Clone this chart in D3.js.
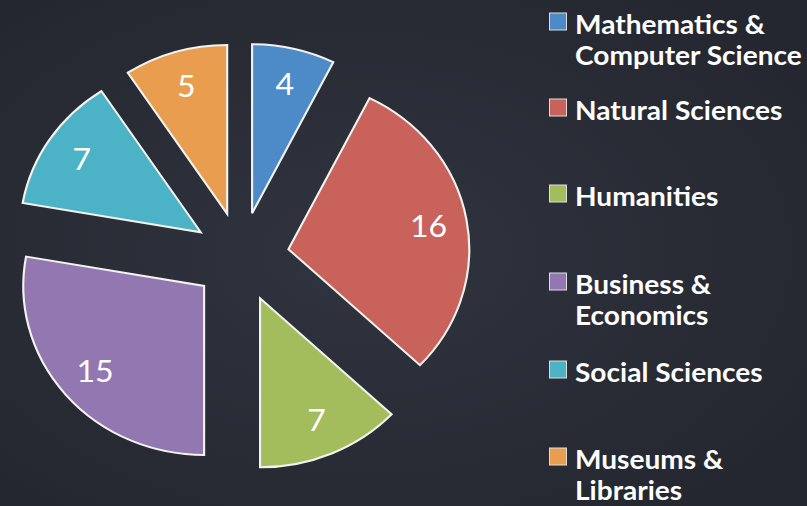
<!DOCTYPE html>
<html>
<head>
<meta charset="utf-8">
<script src="https://cdn.jsdelivr.net/npm/d3@7"></script>
<style>
  html, body { margin: 0; padding: 0; background: #272a33; }
  svg { display: block; }
</style>
</head>
<body>
<svg id="chart" width="807" height="506"></svg>
<script>
const categories = ["Mathematics & Computer Science", "Natural Sciences", "Humanities", "Business & Economics", "Social Sciences", "Museums & Libraries"];
const legendLines = [["Mathematics &", "Computer Science"], ["Natural Sciences"], ["Humanities"], ["Business &", "Economics"], ["Social Sciences"], ["Museums &", "Libraries"]];
const values = [4, 16, 7, 15, 7, 5];
const colors = ["#4d8ac8", "#c8625a", "#a3bd5c", "#9277b0", "#4cb2c6", "#e99e4f"];

const W = 807, H = 506;
const svg = d3.select("#chart");

// background
const defs = svg.append("defs");
const bg = defs.append("radialGradient").attr("id", "bg").attr("cx", "45%").attr("cy", "50%").attr("r", "65%");
bg.append("stop").attr("offset", "0%").attr("stop-color", "#30343f");
bg.append("stop").attr("offset", "100%").attr("stop-color", "#24272f");
svg.append("rect").attr("width", W).attr("height", H).attr("fill", "url(#bg)");

const cx = 241, cy = 257, R = 169, explode = 45, sx = 1.07;
const pie = d3.pie().sort(null).value(d => d)(values);
const arc = d3.arc().innerRadius(0).outerRadius(R);
const labelArc = d3.arc().innerRadius(133).outerRadius(133);

const g = svg.append("g");
const slices = g.selectAll("g.slice").data(pie).join("g")
  .attr("class", "slice")
  .attr("transform", d => {
    const m = (d.startAngle + d.endAngle) / 2;
    const x = cx + sx * explode * Math.sin(m);
    const y = cy - explode * Math.cos(m);
    return `translate(${x},${y}) scale(${sx},1)`;
  });

slices.append("path")
  .attr("d", arc)
  .attr("fill", (d, i) => colors[i])
  .attr("stroke", "#f2f2ee")
  .attr("stroke-width", 2)
  .attr("stroke-linejoin", "miter");

slices.append("text")
  .attr("transform", d => `translate(${labelArc.centroid(d)})`)
  .attr("text-anchor", "middle")
  .attr("dy", "0.36em")
  .attr("fill", "#ffffff")
  .attr("font-family", "Lato, 'Open Sans', sans-serif")
  .attr("font-size", 30)
  .text(d => d.data);

// legend
const legendY = [34, 120, 206, 294, 382, 469];
const lg = svg.append("g");
legendLines.forEach((lines, i) => {
  lg.append("rect")
    .attr("x", 549.5).attr("y", legendY[i] - 21)
    .attr("width", 17).attr("height", 17)
    .attr("fill", colors[i])
    .attr("stroke", "#dddddd").attr("stroke-width", 1);
  const t = lg.append("text")
    .attr("transform", `translate(575,${legendY[i]}) scale(1.08,1)`)
    .attr("fill", "#ffffff")
    .attr("font-family", "Lato, sans-serif")
    .attr("font-weight", "bold")
    .attr("font-size", 26);
  lines.forEach((ln, j) => {
    t.append("tspan").attr("x", 0).attr("dy", j === 0 ? 0 : 31).text(ln);
  });
});
</script>
</body>
</html>
